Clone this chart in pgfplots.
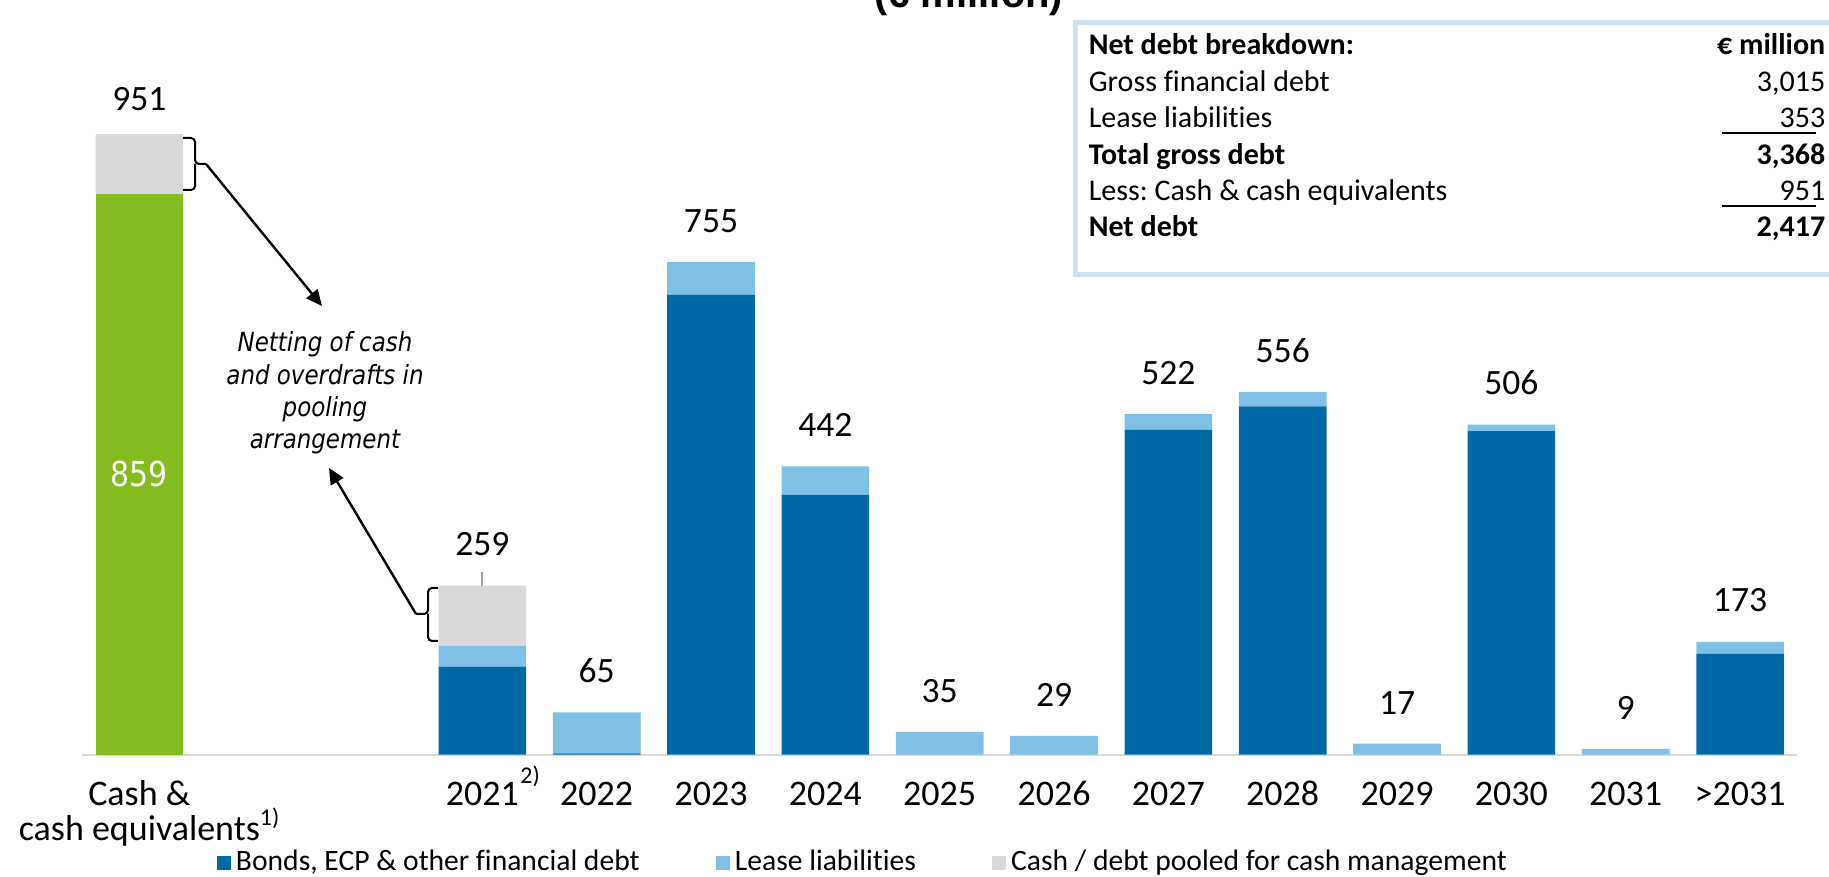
\documentclass[border=0pt]{standalone}
\usepackage{pgfplots}
\pgfplotsset{compat=1.18}
\usepackage{fontspec}
\setmainfont{Carlito}[Ligatures=NoCommon]
\newfontfamily\arialf{Liberation Sans}
\newfontfamily\tahf[FakeStretch=0.87]{DejaVu Sans}
\usetikzlibrary{arrows.meta}
\frenchspacing
\definecolor{darkblue}{RGB}{0,105,165}
\definecolor{lightblue}{RGB}{127,192,228}
\definecolor{poolgray}{RGB}{217,217,217}
\definecolor{cashgreen}{RGB}{132,188,32}
\definecolor{boxblue}{RGB}{204,226,243}
\definecolor{axisgray}{RGB}{217,217,217}
\pgfplotsset{sqlegend/.style={legend image code/.code={\fill[##1] (0pt,-1.75pt) rectangle (3.5pt,1.75pt);}}}
\pgfplotsset{geom/.style={at={(0pt,0pt)}, anchor=south west,
  scale only axis, width=428.75pt, height=188.675pt,
  xmin=-0.5, xmax=14.5, ymin=0, ymax=1156.6, clip=false}}
\begin{document}
\begin{tikzpicture}
\useasboundingbox (-20.55pt,-30.575pt) rectangle (436.70pt,188.675pt);
\begin{axis}[
  geom,
  ybar stacked, bar width=21.9pt,
  axis x line*=bottom, axis y line=none,
  x axis line style={draw=axisgray, line width=0.5pt},
  xtick={0,3,4,5,6,7,8,9,10,11,12,13,14},
  xticklabels={{\begin{tabular}[t]{@{}c@{}}Cash \&\\cash equivalents\rlap{\smash{\raisebox{0.9ex}{\fontsize{6}{6}\selectfont 1)}}}\end{tabular}},{2021\rlap{\smash{\kern0.4pt\raisebox{1.25ex}{\fontsize{6}{6}\selectfont 2)}}}},2022,2023,2024,2025,2026,2027,2028,2029,2030,2031,{>2031}},
  major tick length=0pt,
  xticklabel style={font=\fontsize{9}{8.7}\selectfont, inner sep=0pt, anchor=base, yshift=-12.6pt},
  legend columns=3,
  legend cell align=left,
  legend style={at={(0.0780,-0.1436)}, anchor=west, draw=none, fill=none, inner sep=0pt,
    font=\fontsize{7.4}{8}\selectfont,
    /tikz/every odd column/.append style={column sep=0.8pt},
    /tikz/every even column/.append style={column sep=18.5pt},
    nodes={inner sep=0.5pt}},
]
% cash (green)
\addplot[fill=cashgreen, draw=none, forget plot]
coordinates {(0,859) (3,0) (4,0) (5,0) (6,0) (7,0) (8,0) (9,0) (10,0) (11,0) (12,0) (13,0) (14,0)};
% bonds, ECP & other financial debt
\addplot[fill=darkblue, draw=none, sqlegend]
coordinates {(0,0) (3,135) (4,2) (5,705) (6,398) (7,0) (8,0) (9,498) (10,534) (11,0) (12,496) (13,0) (14,155)};
\addlegendentry{Bonds, ECP \& other financial debt}
% lease liabilities
\addplot[fill=lightblue, draw=none, sqlegend]
coordinates {(0,0) (3,32) (4,63) (5,50) (6,44) (7,35) (8,29) (9,24) (10,22) (11,17) (12,10) (13,9) (14,18)};
\addlegendentry{Lease liabilities}
% pooled
\addplot[fill=poolgray, draw=none, sqlegend]
coordinates {(0,92) (3,92) (4,0) (5,0) (6,0) (7,0) (8,0) (9,0) (10,0) (11,0) (12,0) (13,0) (14,0)};
\addlegendentry{Cash / debt pooled for cash management}
\end{axis}
% overlay axis for value labels
\begin{axis}[geom, hide axis]
\addplot[draw=none, mark=none, nodes near coords, point meta=explicit symbolic,
  every node near coord/.append style={anchor=south, inner sep=0pt, text=black, font=\fontsize{8.9}{10}\selectfont, yshift=7.2pt}]
coordinates {(0,951)[\smash{\raisebox{-2pt}{951}}] (3,259)[259] (4,65)[65] (5,755)[755] (6,442)[442] (7,35)[35] (8,29)[29] (9,522)[522] (10,556)[556] (11,17)[17] (12,506)[506] (13,9)[9] (14,173)[173]};
\addplot[draw=none, mark=none, nodes near coords, point meta=explicit symbolic,
  every node near coord/.append style={anchor=south, inner sep=0pt, text=white, font=\tahf\fontsize{8.6}{9}\selectfont, yshift=-73.4pt}]
coordinates {(0,859)[859]};
\end{axis}
\begin{scope}[x=0.25pt,y=-0.25pt,shift={(-20.55pt,188.675pt)}]
  % title (cut off at top)
  \node[anchor=base east, inner sep=0pt, font=\arialf\bfseries\fontsize{10}{12}\selectfont] at (1064,8) {(€ million)};
  % table box
  \draw[boxblue, line width=1.25pt] (1075,22.5) rectangle (1845,275);
  \begin{scope}[every node/.style={inner sep=0pt, font=\fontsize{7.5}{9}\selectfont}]
    \node[anchor=base west] at (1088,55) {\bfseries Net debt breakdown:};
    \node[anchor=base east] at (1826,55) {\bfseries € million};
    \node[anchor=base west] at (1088,91.4) {Gross financial debt};
    \node[anchor=base east] at (1826,91.4) {3,015};
    \node[anchor=base west] at (1088,127.8) {Lease liabilities};
    \node[anchor=base east] at (1826,127.8) {353};
    \node[anchor=base west] at (1088,164.2) {\bfseries Total gross debt};
    \node[anchor=base east] at (1826,164.2) {\bfseries 3,368};
    \node[anchor=base west] at (1088,200.6) {Less: Cash \& cash equivalents};
    \node[anchor=base east] at (1826,200.6) {951};
    \node[anchor=base west] at (1088,237) {\bfseries Net debt};
    \node[anchor=base east] at (1826,237) {\bfseries 2,417};
  \end{scope}
  \draw[line width=0.45pt] (1722,133) -- (1816,133);
  \draw[line width=0.45pt] (1722,206) -- (1816,206);
  % annotation
  \node[align=center, inner sep=0pt, font=\tahf\itshape\fontsize{6.6}{8.1}\selectfont] at (325,393)
    {Netting of cash\\and overdrafts in\\pooling\\arrangement};
  \draw[line width=0.5pt, rounded corners=1pt] (183,138) -| (195,164) -- (206,164);
  \draw[line width=0.5pt, rounded corners=1pt] (195,164) |- (183,190);
  \draw[line width=0.6pt, -{Triangle[length=4pt,width=3.6pt]}] (206,164) -- (322,306);
  \draw[line width=0.5pt, rounded corners=1pt] (438,588) -| (428,614) -- (416,614);
  \draw[line width=0.5pt, rounded corners=1pt] (428,614) |- (438,641);
  \draw[line width=0.6pt, -{Triangle[length=4pt,width=3.6pt]}] (416,614) -- (329,468);
  % leader line for 2021 label
  \draw[gray!70, line width=0.35pt] (482,572) -- (482,586);
\end{scope}
\end{tikzpicture}
\end{document}
